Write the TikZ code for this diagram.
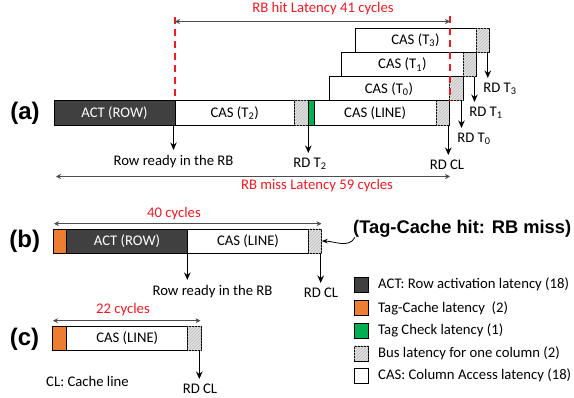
\documentclass[tikz,border=0pt]{standalone}
\usepackage{fontspec}
\setmainfont{Carlito}
\newfontfamily\headfont{Liberation Sans}
\usetikzlibrary{arrows.meta,patterns}

\definecolor{actgray}{RGB}{64,64,64}
\definecolor{tagorange}{RGB}{237,125,49}
\definecolor{chkgreen}{RGB}{0,176,80}
\definecolor{busgray}{RGB}{224,224,224}
\definecolor{latred}{RGB}{236,28,36}

\begin{document}
\begin{tikzpicture}[x=1pt,y=-1pt,
  every node/.style={font=\fontsize{14.7pt}{17pt}\selectfont},
  seg/.style={draw=black, line width=0.9pt, inner sep=0pt, outer sep=0pt,
    anchor=north west, minimum height=24.2pt},
  actseg/.style={seg, fill=actgray, text=white},
  casseg/.style={seg, fill=white},
  tagseg/.style={seg, fill=tagorange},
  chkseg/.style={seg, fill=chkgreen},
  busseg/.style={seg, fill=busgray,
    postaction={pattern=north east lines, pattern color=black!25}},
  legsq/.style={draw=black, line width=0.9pt, inner sep=0pt, outer sep=0pt,
    minimum width=14.3pt, minimum height=15pt},
  legtext/.style={anchor=west, inner sep=0pt},
  rdlabel/.style={anchor=north, inner sep=0pt, outer sep=5pt},
  rdarrow/.style={-{Stealth[length=7.5pt,width=6.5pt]}, line width=1.3pt},
  dimarrow/.style={{Stealth[length=5pt,width=5pt]}-{Stealth[length=5pt,width=5pt]},
    line width=0.7pt, draw=black!70},
  redtext/.style={text=latred, inner sep=0pt},
  reddash/.style={draw=latred, line width=2.6pt, dash pattern=on 7pt off 5pt},
  tag/.style={font=\headfont\bfseries\fontsize{24pt}{28pt}\selectfont, inner sep=0pt}
]
\path[use as bounding box, fill=white] (0,0) rectangle (574,398);

% ---------------- (a) RB miss / RB hit timeline ----------------
\node[tag] (la) at (25,113) {(a)};
\node[actseg, minimum width=121pt] (actA) at (54,100.9) {ACT (ROW)};
\node[casseg, minimum width=119.3pt] (casT2) at (actA.north east) {CAS (T\textsubscript{2})};
\node[busseg, minimum width=14pt] (busT2) at (casT2.north east) {};
\node[chkseg, minimum width=6pt] (chkA) at (busT2.north east) {};
\node[casseg, minimum width=121.7pt] (casLA) at (chkA.north east) {CAS (LINE)};
\node[busseg, minimum width=13pt] (busLA) at (casLA.north east) {};

\node[casseg, minimum width=120pt] (casT0) at (329,76.7) {CAS (T\textsubscript{0})};
\node[busseg, minimum width=14pt] (busT0) at (casT0.north east) {};
\node[casseg, minimum width=121.3pt] (casT1) at (341.7,52.5) {CAS (T\textsubscript{1})};
\node[busseg, minimum width=13pt] (busT1) at (casT1.north east) {};
\node[casseg, minimum width=121pt] (casT3) at (355,28.3) {CAS (T\textsubscript{3})};
\node[busseg, minimum width=13.3pt] (busT3) at (casT3.north east) {};

% row-buffer hit window
\coordinate (hitLtop) at (175,17.5);
\coordinate (hitRtop) at (450,16);
\coordinate (hitRbot) at (450,101);
\draw[reddash] (hitLtop) -- (actA.north east);
\draw[reddash] (hitRtop) -- (hitRbot);
\coordinate (hitA) at (175,21.5);
\coordinate (hitB) at (450,21.5);
\draw[dimarrow] (hitA) -- (hitB);
\node[redtext] (hitT) at (323,9) {RB hit Latency 41 cycles};

% read-out arrows
\node[rdlabel] (rowA) at (173.5,150) {Row ready in the RB};
\node[rdlabel] (rdT2) at (310,153) {RD T\textsubscript{2}};
\node[rdlabel] (rdCLa) at (447,155) {RD CL};
\node[rdlabel] (rdT0) at (474,128) {RD T\textsubscript{0}};
\node[rdlabel] (rdT1) at (486,102) {RD T\textsubscript{1}};
\node[rdlabel] (rdT3) at (500,78) {RD T\textsubscript{3}};

\coordinate (srcRowA) at ([xshift=-1.5pt]actA.south east);
\coordinate (srcT2) at (chkA.south west);
\coordinate (srcCLa) at ([xshift=-0.7pt]busLA.south east);
\coordinate (srcT0) at ([xshift=-1.5pt]busT0.south east);
\coordinate (srcT1) at ([xshift=-1.5pt]busT1.south east);
\coordinate (srcT3) at ([xshift=-1.5pt]busT3.south east);
\draw[rdarrow] (srcRowA) -- (srcRowA |- rowA.north);
\draw[rdarrow] (srcT2) -- (srcT2 |- rdT2.north);
\draw[rdarrow] (srcCLa) -- (srcCLa |- rdCLa.north);
\draw[rdarrow] (srcT0) -- (srcT0 |- rdT0.north);
\draw[rdarrow] (srcT1) -- (srcT1 |- rdT1.north);
\draw[rdarrow] (srcT3) -- (srcT3 |- rdT3.north);

\coordinate (missA) at (56,176.5);
\coordinate (missB) at (450,176.5);
\draw[dimarrow] (missA) -- (missB);
\node[redtext] (missT) at (317,186) {RB miss Latency 59 cycles};

% ---------------- (b) tag-cache hit, RB miss ----------------
\node[tag] (lb) at (24.7,241.5) {(b)};
\node[tagseg, minimum width=13.4pt] (tagB) at (53.3,229) {};
\node[actseg, minimum width=120.6pt] (actB) at (tagB.north east) {ACT (ROW)};
\node[casseg, minimum width=121.4pt] (casB) at (actB.north east) {CAS (LINE)};
\node[busseg, minimum width=13pt] (busB) at (casB.north east) {};

\coordinate (dimB1) at (54,223.7);
\coordinate (dimB2) at (321.5,223.7);
\draw[dimarrow] (dimB1) -- (dimB2);
\node[redtext] (dimBT) at (174,213.3) {40 cycles};

\node[rdlabel] (rowB) at (212.5,280) {Row ready in the RB};
\node[rdlabel] (rdCLb) at (321,283) {RD CL};
\coordinate (srcRowB) at (actB.south east);
\coordinate (srcCLb) at ([xshift=-1pt]busB.south east);
\draw[rdarrow] (srcRowB) -- (srcRowB |- rowB.north);
\draw[rdarrow] (srcCLb) -- (srcCLb |- rdCLb.north);

\node[anchor=base west, inner sep=0pt,
  font=\headfont\bfseries\fontsize{18.3pt}{21pt}\selectfont] (tagnote) at (353,233.3)
  {(Tag-Cache hit: RB miss)};
\draw[-{Stealth[length=6pt,width=4.5pt]}, line width=0.8pt]
  ([xshift=2pt]tagnote.south west) to[out=-120, in=0] (busB.east);

% ---------------- (c) tag-cache hit, RB hit ----------------
\node[tag] (lc) at (24.5,339) {(c)};
\node[tagseg, minimum width=14.4pt] (tagC) at (52.3,326.5) {};
\node[casseg, minimum width=121pt] (casC) at (tagC.north east) {CAS (LINE)};
\node[busseg, minimum width=13.6pt] (busC) at (casC.north east) {};

\coordinate (dimC1) at (53,320.7);
\coordinate (dimC2) at (200.5,320.7);
\draw[dimarrow] (dimC1) -- (dimC2);
\node[redtext] (dimCT) at (123,310) {22 cycles};

\node[rdlabel] (rdCLc) at (200,379) {RD CL};
\coordinate (srcCLc) at ([xshift=-2pt]busC.south east);
\draw[rdarrow] (srcCLc) -- (srcCLc |- rdCLc.north);

\node[inner sep=0pt] (clnote) at (87.5,381) {CL: Cache line};

% ---------------- legend ----------------
\node[legsq, fill=actgray] (legAct) at (361.2,284.8) {};
\node[legsq, fill=tagorange] (legTag) at (361.2,308.2) {};
\node[legsq, fill=chkgreen] (legChk) at (361.2,330.5) {};
\node[legsq, fill=busgray, postaction={pattern=north east lines, pattern color=black!25}] (legBus) at (361.2,353.5) {};
\node[legsq, fill=white] (legCas) at (361.2,375.5) {};
\node[legtext] (legActT) at (378,284.8) {ACT: Row activation latency (18)};
\node[legtext] (legTagT) at (378,308.2) {Tag-Cache latency \ (2)};
\node[legtext] (legChkT) at (378,330.5) {Tag Check latency (1)};
\node[legtext] (legBusT) at (378,353.5) {Bus latency for one column (2)};
\node[legtext] (legCasT) at (378,375.5) {CAS: Column Access latency (18)};
\end{tikzpicture}
\end{document}
